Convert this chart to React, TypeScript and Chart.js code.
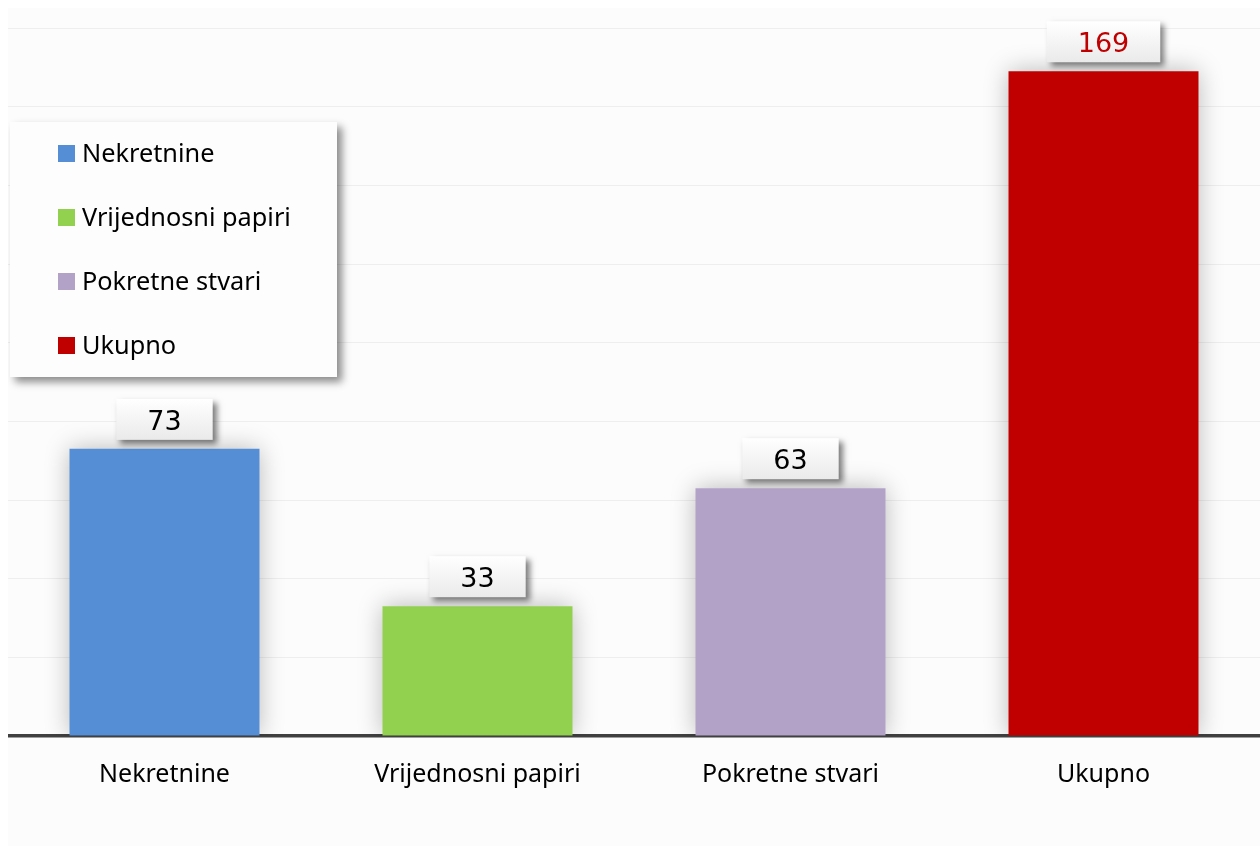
import React, { useEffect, useRef } from "react";
import { Chart, registerables } from "chart.js";

Chart.register(...registerables);

const categories = ["Nekretnine", "Vrijednosni papiri", "Pokretne stvari", "Ukupno"];
const values = [73, 33, 63, 169];
const barColors = ["#558ed5", "#92d050", "#b3a2c7", "#c00000"];
const labelColors = ["#000000", "#000000", "#000000", "#c00000"];
const yMin = 0;
const yMax = 180;
const yStep = 20;

const TEXT_FONT = "'Noto Sans', 'Open Sans', sans-serif";
const NUM_FONT = "'DejaVu Sans', sans-serif";

const shadowAndLabels = {
  id: "shadowAndLabels",
  beforeDatasetsDraw(chart: any) {
    const ctx = chart.ctx;
    ctx.save();
    ctx.shadowColor = "rgba(0,0,0,0.28)";
    ctx.shadowBlur = 24;
    ctx.shadowOffsetX = 0;
    ctx.shadowOffsetY = 0;
  },
  afterDatasetsDraw(chart: any) {
    const ctx = chart.ctx;
    ctx.restore();
    const meta = chart.getDatasetMeta(0);
    const data = chart.data.datasets[0].data;
    ctx.save();
    ctx.font = `27px ${NUM_FONT}`;
    meta.data.forEach((bar: any, i: number) => {
      const text = String(data[i]);
      const tw = ctx.measureText(text).width;
      const w = tw + 62;
      const h = 41;
      const bottom = bar.y - 9;
      const top = bottom - h;
      const left = bar.x - w / 2;
      ctx.save();
      ctx.shadowColor = "rgba(0,0,0,0.5)";
      ctx.shadowBlur = 6;
      ctx.shadowOffsetX = 4;
      ctx.shadowOffsetY = 4;
      const g = ctx.createLinearGradient(0, top, 0, bottom);
      g.addColorStop(0, "#ffffff");
      g.addColorStop(1, "#eaeaea");
      ctx.fillStyle = g;
      ctx.fillRect(left, top, w, h);
      ctx.restore();
      ctx.fillStyle = labelColors[i];
      ctx.textAlign = "center";
      ctx.textBaseline = "alphabetic";
      ctx.fillText(text, bar.x, bottom - 10);
    });
    ctx.restore();
  },
  afterDraw(chart: any) {
    const ctx = chart.ctx;
    ctx.save();
    ctx.shadowColor = "rgba(0,0,0,0.45)";
    ctx.shadowBlur = 8;
    ctx.shadowOffsetX = 5;
    ctx.shadowOffsetY = 5;
    ctx.fillStyle = "#fdfdfd";
    ctx.fillRect(2, 114, 327, 255);
    ctx.restore();
    ctx.save();
    ctx.font = `25.3px ${TEXT_FONT}`;
    ctx.textAlign = "left";
    ctx.textBaseline = "alphabetic";
    const labels = chart.data.labels;
    const colors = chart.data.datasets[0].backgroundColor;
    labels.forEach((lab: string, i: number) => {
      const base = 154 + i * 64;
      ctx.fillStyle = colors[i];
      ctx.fillRect(50, base - 17, 17, 17);
      ctx.fillStyle = "#000000";
      ctx.fillText(lab, 74, base);
    });
    ctx.restore();
  },
};

export default function App() {
  const ref = useRef<HTMLCanvasElement>(null);
  useEffect(() => {
    if (!ref.current) return;
    const chart = new Chart(ref.current, {
      type: "bar",
      data: {
        labels: categories,
        datasets: [
          {
            data: values,
            backgroundColor: barColors,
            borderWidth: 0,
            barPercentage: 0.607,
            categoryPercentage: 1,
          },
        ],
      },
      options: {
        animation: false,
        responsive: true,
        maintainAspectRatio: false,
        layout: { padding: { top: 20, left: 0, right: 0, bottom: 0 } },
        plugins: {
          legend: { display: false },
          tooltip: { enabled: false },
        },
        scales: {
          x: {
            grid: { display: true, color: "rgba(0,0,0,0)", drawOnChartArea: false, drawTicks: false },
            border: { display: true, color: "#404040", width: 3.5 },
            ticks: {
              color: "#000000",
              font: { family: TEXT_FONT, size: 25 },
              padding: 24,
            },
            afterFit: (s: any) => {
              s.height = 110;
            },
          },
          y: {
            min: yMin,
            max: yMax,
            ticks: { display: false, stepSize: yStep },
            grid: { color: "#eeeeee", lineWidth: 1, drawTicks: false },
            border: { display: false },
            afterFit: (s: any) => {
              s.width = 0;
            },
          },
        },
      },
      plugins: [shadowAndLabels],
    });
    return () => chart.destroy();
  }, []);
  return (
    <div
      style={{
        position: "fixed",
        left: 8,
        top: 8,
        width: 1252,
        height: 838,
        background: "#fcfcfc",
      }}
    >
      <canvas ref={ref} />
    </div>
  );
}
